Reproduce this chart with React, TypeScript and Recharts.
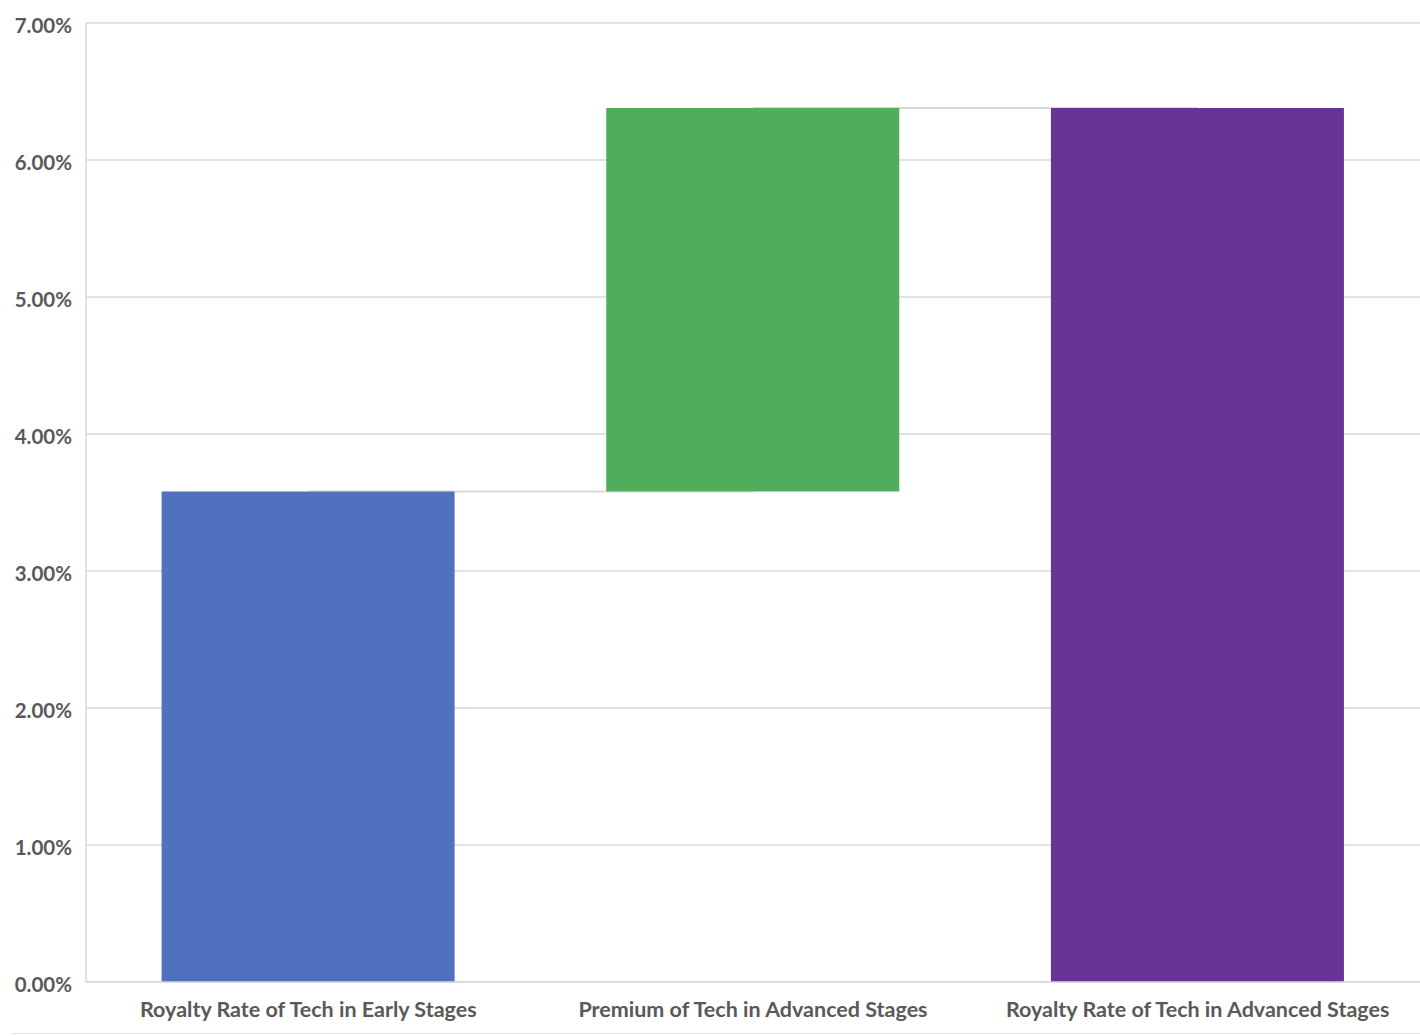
import { BarChart, Bar, XAxis, YAxis, CartesianGrid, ReferenceLine, Cell } from 'recharts'

const categories = [
  'Royalty Rate of Tech in Early Stages',
  'Premium of Tech in Advanced Stages',
  'Royalty Rate of Tech in Advanced Stages',
]
const baseValues = [0, 3.58, 0]
const stepValues = [3.58, 2.8, 6.38]
const barColors = ['#5072be', '#50ad5c', '#673496']
const yTicks = [0, 1, 2, 3, 4, 5, 6, 7]

const data = categories.map((name, i) => ({
  name,
  base: baseValues[i],
  value: stepValues[i],
}))

const tickStyle = {
  fontFamily: 'Lato, "Open Sans", sans-serif',
  fontWeight: 700,
  fill: '#595959',
}

export default function App() {
  const earlyTop = baseValues[0] + stepValues[0]
  const premiumTop = baseValues[1] + stepValues[1]
  return (
    <div style={{ position: 'absolute', left: 0, top: 0, width: 1420, height: 1036, background: '#fff' }}>
      <BarChart
        width={1420}
        height={1036}
        data={data}
        margin={{ top: 23, right: 0, bottom: 0, left: 0 }}
        barCategoryGap="17%"
      >
        <CartesianGrid vertical={false} stroke="#d9d9d9" strokeWidth={1.5} />
        <XAxis
          dataKey="name"
          height={54}
          tickLine={false}
          axisLine={{ stroke: '#d9d9d9', strokeWidth: 1.5 }}
          tickMargin={14}
          tick={{ ...tickStyle, fontSize: 21.5 }}
          interval={0}
        />
        <YAxis
          width={86}
          domain={[0, 7]}
          ticks={yTicks}
          tickLine={false}
          axisLine={{ stroke: '#d9d9d9', strokeWidth: 1.5 }}
          tickMargin={8}
          tick={{ ...tickStyle, fontSize: 20.5, dy: 3 }}
          tickFormatter={(v: number) => `${v.toFixed(2)}%`}
        />
        <ReferenceLine
          segment={[
            { x: categories[0], y: earlyTop },
            { x: categories[1], y: earlyTop },
          ]}
          stroke="#d9d9d9"
          strokeWidth={2}
          zIndex={100}
        />
        <ReferenceLine
          segment={[
            { x: categories[1], y: premiumTop },
            { x: categories[2], y: premiumTop },
          ]}
          stroke="#d9d9d9"
          strokeWidth={2}
          zIndex={100}
        />
        <Bar dataKey="base" stackId="w" fill="transparent" isAnimationActive={false} />
        <Bar dataKey="value" stackId="w" isAnimationActive={false}>
          {data.map((d, i) => (
            <Cell key={d.name} fill={barColors[i]} />
          ))}
        </Bar>
      </BarChart>
      <div
        style={{
          position: 'absolute',
          left: 12,
          right: 0,
          top: 1033,
          height: 1,
          background: '#e3e3e3',
        }}
      />
    </div>
  )
}
